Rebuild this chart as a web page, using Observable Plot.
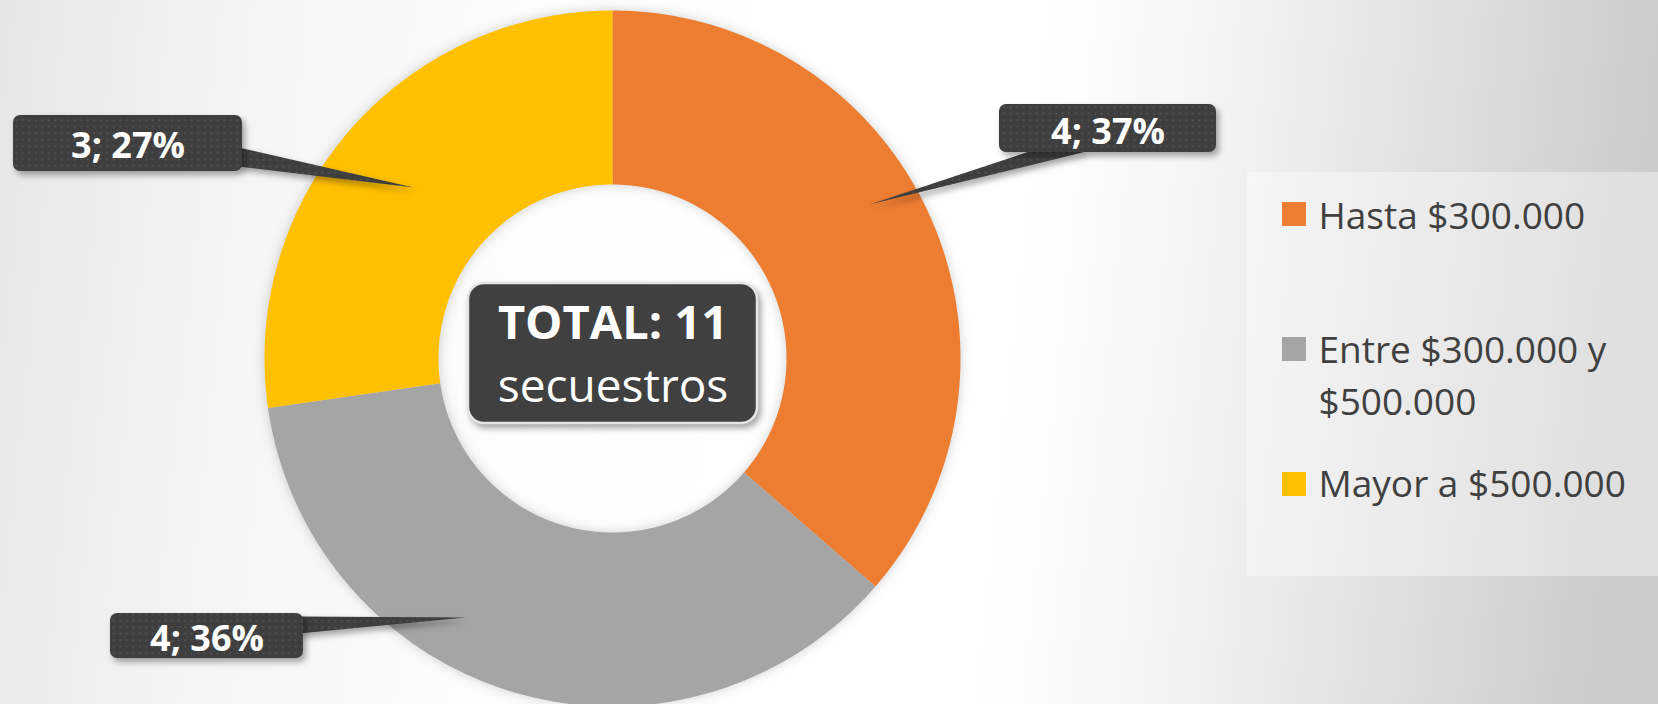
<!DOCTYPE html>
<html>
<head>
<meta charset="utf-8">
<script src="https://cdn.jsdelivr.net/npm/d3@7"></script>
<script src="https://cdn.jsdelivr.net/npm/@observablehq/plot@0.6"></script>
<style>
  html, body { margin: 0; padding: 0; width: 1658px; height: 704px; overflow: hidden; }
  body {
    position: relative;
    font-family: "Open Sans", sans-serif;
    background: linear-gradient(96deg, #e6e6e6 0px, #f4f4f4 240px, #fdfdfd 560px, #ffffff 760px, #ffffff 1040px, #f3f3f3 1230px, #dddddd 1470px, #cbcbcb 1658px);
  }
  #chart { position: absolute; left: 0; top: 0; }
</style>
</head>
<body>
<div id="chart"></div>
<script>
// ---------- data ----------
const categories = ["Hasta $300.000", "Entre $300.000 y\n$500.000", "Mayor a $500.000"];
const counts = [4, 4, 3];
const sliceLabels = ["4; 37%", "4; 36%", "3; 27%"];
const totalWord = "secuestros";
const colors = ["#ED7D31", "#A5A5A5", "#FFC000"];

// ---------- layout (pixels) ----------
const W = 1658, H = 704;
const donut = {cx: 612, cy: 358, rOuter: 348, rInner: 174};
const callouts = [
  {box: [999, 104, 1216, 152], tail: [[1032, 150], [1090, 150], [869, 204]], base: 143},
  {box: [110, 613, 303, 658], tail: [[298, 616], [465, 617], [298, 633]], base: 650},
  {box: [13, 115, 242, 171], tail: [[238, 147], [413, 187], [238, 166]], base: 157}
];
const centerBox = [468, 283, 757, 423];
const centerBase = [338, 401];
const legendPanel = [1247, 172, 1658, 576];
const legendSwatchX = [1282, 1306];
const legendTextX = 1318;
const legendCapTop = [192, 326, 460];
const legendSwatchTop = [202, 337, 472];

// ---------- geometry from values ----------
const arcs = d3.pie().sort(null).value(d => d)(counts);
const ring = [];
arcs.forEach((a, i) => {
  const n = 160;
  for (let k = 0; k <= n; k++) {
    const t = a.startAngle + (a.endAngle - a.startAngle) * k / n;
    ring.push({cat: categories[i], x: donut.cx + donut.rOuter * Math.sin(t), y: donut.cy - donut.rOuter * Math.cos(t)});
  }
  for (let k = n; k >= 0; k--) {
    const t = a.startAngle + (a.endAngle - a.startAngle) * k / n;
    ring.push({cat: categories[i], x: donut.cx + donut.rInner * Math.sin(t), y: donut.cy - donut.rInner * Math.cos(t)});
  }
});
const tails = [];
callouts.forEach((c, i) => c.tail.forEach(p => tails.push({cat: categories[i], x: p[0], y: p[1]})));

const total = d3.sum(counts);

const shadow = "drop-shadow(3px 4px 3px rgba(0,0,0,0.35))";

const svg = Plot.plot({
  width: W, height: H,
  margin: 0,
  style: {background: "transparent", overflow: "visible"},
  x: {domain: [0, W], range: [0, W], axis: null},
  y: {domain: [0, H], range: [0, H], axis: null},
  color: {domain: categories, range: colors},
  marks: [
    // legend panel
    Plot.rect([legendPanel], {x1: d => d[0], y1: d => d[1], x2: d => d[2], y2: d => d[3], fill: "#ffffff", fillOpacity: 0.38}),
    // donut slices
    Plot.line(ring, {x: "x", y: "y", z: "cat", fill: "cat", stroke: "none", curve: "linear-closed", imageFilter: "drop-shadow(0px 0px 6px rgba(0,0,0,0.18))"}),
    // callout tails
    Plot.line(tails, {x: "x", y: "y", z: "cat", fill: "url(#dots)", stroke: "none", curve: "linear-closed", imageFilter: shadow}),
    // callout boxes
    Plot.rect(callouts, {x1: d => d.box[0], y1: d => d.box[1], x2: d => d.box[2], y2: d => d.box[3], rx: 7, fill: "url(#dots)", imageFilter: shadow}),
    Plot.text(sliceLabels, {
      x: (d, i) => (callouts[i].box[0] + callouts[i].box[2]) / 2,
      y: (d, i) => callouts[i].base,
      text: d => d, lineAnchor: "bottom", textAnchor: "middle",
      fill: "#ffffff", fontSize: 36, fontWeight: "bold", fontFamily: "Open Sans"
    }),
    // center total box
    Plot.rect([centerBox], {x1: d => d[0], y1: d => d[1], x2: d => d[2], y2: d => d[3], rx: 16, fill: "#404040", stroke: "#e4e4e4", strokeWidth: 2.5, imageFilter: shadow}),
    Plot.text(["TOTAL: " + total], {x: () => (centerBox[0] + centerBox[2]) / 2, y: () => centerBase[0], text: d => d, lineAnchor: "bottom", fill: "#ffffff", fontSize: 47, fontWeight: "bold", fontFamily: "Open Sans"}),
    Plot.text([totalWord], {x: () => (centerBox[0] + centerBox[2]) / 2, y: () => centerBase[1], text: d => d, lineAnchor: "bottom", fill: "#ffffff", fontSize: 46, fontFamily: "Open Sans"}),
    // legend
    Plot.rect(categories, {
      x1: () => legendSwatchX[0], x2: () => legendSwatchX[1],
      y1: (d, i) => legendSwatchTop[i], y2: (d, i) => legendSwatchTop[i] + 24,
      fill: d => d
    }),
    Plot.text(categories, {
      x: () => legendTextX, y: (d, i) => legendCapTop[i], text: d => d,
      textAnchor: "start", lineAnchor: "top", lineHeight: 1.4,
      fill: "#404040", fontSize: 37, fontFamily: "Open Sans"
    })
  ]
});

// dotted pattern for callouts
const NS = "http://www.w3.org/2000/svg";
const defs = document.createElementNS(NS, "defs");
const pat = document.createElementNS(NS, "pattern");
pat.setAttribute("id", "dots");
pat.setAttribute("width", "6.5");
pat.setAttribute("height", "6.5");
pat.setAttribute("patternUnits", "userSpaceOnUse");
const bg = document.createElementNS(NS, "rect");
bg.setAttribute("width", "6.5"); bg.setAttribute("height", "6.5"); bg.setAttribute("fill", "#3e3e3e");
const dot = document.createElementNS(NS, "circle");
dot.setAttribute("cx", "3.25"); dot.setAttribute("cy", "3.25"); dot.setAttribute("r", "0.9"); dot.setAttribute("fill", "#595959");
pat.appendChild(bg); pat.appendChild(dot); defs.appendChild(pat);
svg.insertBefore(defs, svg.firstChild);

document.getElementById("chart").appendChild(svg);
</script>
</body>
</html>
